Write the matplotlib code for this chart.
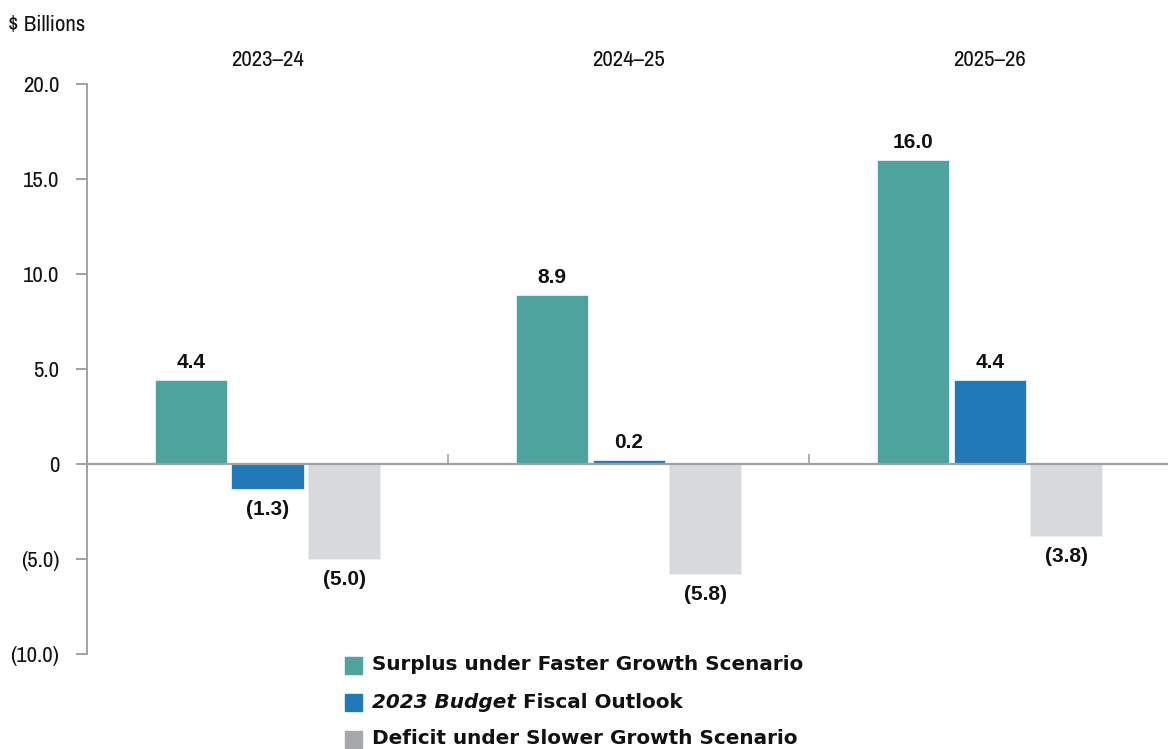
import matplotlib
matplotlib.use("Agg")
import matplotlib.pyplot as plt
from matplotlib.patches import Rectangle
from matplotlib.text import Annotation
import numpy as np

# Fiscal years and scenario values ($ billions)
years = ["2023\u201324", "2024\u201325", "2025\u201326"]
faster_growth = [4.4, 8.9, 16.0]
budget_outlook = [-1.3, 0.2, 4.4]
slower_growth = [-5.0, -5.8, -3.8]

series_names = ["Surplus under Faster Growth Scenario",
                "Fiscal Outlook",
                "Deficit under Slower Growth Scenario"]
budget_title = "2023 Budget"
bar_colors = ["#4FA39F", "#2279B8", "#D8D9DB"]
legend_colors = ["#4FA39F", "#2279B8", "#A7A8AC"]

y_ticks = [20, 15, 10, 5, 0, -5, -10]

narrow = ["Liberation Sans Narrow", "Archivo Narrow", "Liberation Sans"]
label_font = ["Liberation Sans"]
legend_font = ["DejaVu Sans"]

axis_gray = "#A0A0A5"
ink = "#111111"


def fmt(v, bare_zero=False):
    if bare_zero and v == 0:
        return "0"
    return f"({abs(v):.1f})" if v < 0 else f"{v:.1f}"


fig = plt.figure(figsize=(11.68, 7.49), dpi=100)
ax = fig.add_axes([87 / 1168, 1 - 654 / 749, 1 - 87 / 1168 + 0.002, (654 - 84) / 749])

x = np.arange(len(years))
width = 0.2
offset = 0.212
all_series = [faster_growth, budget_outlook, slower_growth]
for i, (vals, col) in enumerate(zip(all_series, bar_colors)):
    pos = x + (i - 1) * offset
    bars = ax.bar(pos, vals, width=width, color=col, edgecolor="#EAF2F2",
                  linewidth=0.6, zorder=2)
    for b, v in zip(bars, vals):
        cx = b.get_x() + b.get_width() / 2
        if v >= 0:
            ax.annotate(fmt(v), (cx, v), xytext=(0, 6), textcoords="offset points",
                        ha="center", va="bottom", fontsize=15, fontweight="bold",
                        family=label_font, color=ink)
        else:
            ax.annotate(fmt(v), (cx, v), xytext=(0, -8), textcoords="offset points",
                        ha="center", va="top", fontsize=15, fontweight="bold",
                        family=label_font, color=ink)

ax.set_xlim(-0.5, 2.5)
ax.set_ylim(-10, 20)

# Spines: left axis and a zero baseline carrying group dividers
for s in ["top", "right"]:
    ax.spines[s].set_visible(False)
ax.spines["left"].set_color(axis_gray)
ax.spines["left"].set_linewidth(1.4)
ax.spines["bottom"].set_position(("data", 0))
ax.spines["bottom"].set_color(axis_gray)
ax.spines["bottom"].set_linewidth(1.6)
ax.spines["bottom"].set_zorder(3)

ax.set_xticks(x[:-1] + 0.5)
ax.tick_params(axis="x", direction="in", length=7, width=1.2, color=axis_gray,
               labelbottom=False)
ax.set_yticks(y_ticks)
ax.set_yticklabels([fmt(v, bare_zero=True) for v in y_ticks])
ax.tick_params(axis="y", direction="out", length=8, width=1.4, color=axis_gray,
               labelsize=16.5, pad=12)
for lab in ax.get_yticklabels():
    lab.set_family(narrow)
    lab.set_color(ink)

# Fiscal-year headers above the plot
for xi, yr in zip(x, years):
    ax.text(xi, 1.042, yr, transform=ax.get_xaxis_transform(), ha="center",
            va="center", fontsize=16.5, family=narrow, color=ink)

fig.text(8 / 1168, 1 - 25 / 749, "$ Billions", ha="left", va="center",
         fontsize=16.5, family=narrow, color=ink)

# Legend drawn in figure coordinates
W, H = 1168, 749
rows_y = [665, 702, 739]
for yy, col in zip(rows_y, legend_colors):
    fig.patches.append(Rectangle((345 / W, 1 - (yy + 9) / H), 17 / W, 17 / H,
                                 transform=fig.transFigure, color=col))
tx = 372 / W
leg_kw = dict(fontsize=14.4, family=legend_font, fontweight="bold", color=ink)
fig.text(tx, 1 - rows_y[0] / H, series_names[0], ha="left", va="center", **leg_kw)
it = fig.text(tx, 1 - rows_y[1] / H, budget_title, ha="left", va="center",
              style="italic", **leg_kw)
fig.add_artist(Annotation(" " + series_names[1], xy=(1, 0), xycoords=it,
                          ha="left", va="bottom", **leg_kw))
fig.text(tx, 1 - rows_y[2] / H, series_names[2], ha="left", va="center", **leg_kw)

fig.savefig("out.png", dpi=100, facecolor="white")
